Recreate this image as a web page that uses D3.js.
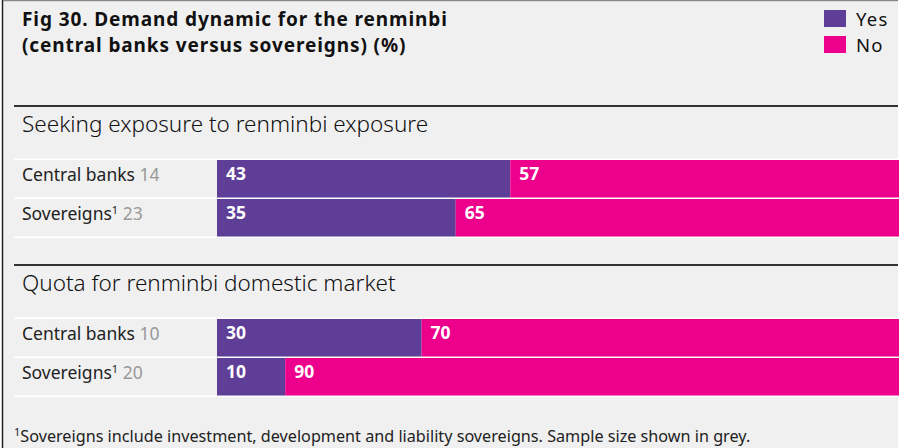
<!DOCTYPE html>
<html>
<head>
<meta charset="utf-8">
<script src="https://cdn.jsdelivr.net/npm/d3@7"></script>
<style>
  html, body { margin: 0; padding: 0; background: #ffffff; }
  svg { display: block; }
  text { font-family: "Noto Sans", "Open Sans", sans-serif; }
</style>
</head>
<body>
<svg id="chart" width="906" height="448"></svg>
<script>
// Survey answers, % of respondents
const sections = ["Seeking exposure to renminbi exposure", "Quota for renminbi domestic market"];
const groups = ["Central banks", "Sovereigns"];
const sampleSizes = [[14, 23], [10, 20]];
const yesValues = [[43, 35], [30, 10]];
const noValues = [[57, 65], [70, 90]];
const seriesNames = ["Yes", "No"];
const seriesColors = ["#5f3e98", "#ec008c"];

const svg = d3.select("#chart");
const W = 906, H = 448;

// Panel background and frame
svg.append("rect").attr("x", 3).attr("y", 0).attr("width", 895).attr("height", H).attr("fill", "#f0f0f0");
svg.append("line").attr("x1", 2.5).attr("x2", 2.5).attr("y1", 0).attr("y2", H).attr("stroke", "#222").attr("stroke-width", 1.5);
svg.append("line").attr("x1", 3).attr("x2", 898).attr("y1", 0.5).attr("y2", 0.5).attr("stroke", "#888").attr("stroke-width", 1.5);

// Title (two lines)
const titleLines = ["Fig 30. Demand dynamic for the renminbi", "(central banks versus sovereigns) (%)"];
svg.append("g").selectAll("text").data(titleLines).join("text")
  .attr("x", 22).attr("y", (d, i) => 26 + i * 26)
  .attr("font-size", 19).attr("font-weight", 700).attr("letter-spacing", 0.9).attr("fill", "#111")
  .text(d => d);

// Legend
const color = d3.scaleOrdinal().domain(seriesNames).range(seriesColors);
const legend = svg.append("g").selectAll("g").data(seriesNames).join("g")
  .attr("transform", (d, i) => `translate(824, ${10 + i * 26})`);
legend.append("rect").attr("width", 22).attr("height", 17).attr("fill", d => color(d));
legend.append("text").attr("x", 32).attr("y", 15.5).attr("font-size", 18.5)
  .attr("letter-spacing", 1.2).attr("fill", "#111").text(d => d);

// Shared horizontal scale for stacked bars
const x = d3.scaleLinear().domain([0, 100]).range([217, 899]);
const rowH = 39, gap = 1.5;
const sectionTop = [106, 265];     // separator line positions
const bandTop = [158.5, 317.5];    // first white divider per section

sections.forEach((name, s) => {
  const g = svg.append("g");
  g.append("line").attr("x1", 14).attr("x2", 898).attr("y1", sectionTop[s]).attr("y2", sectionTop[s])
    .attr("stroke", "#333").attr("stroke-width", 2);
  g.append("text").attr("x", 22).attr("y", sectionTop[s] + 26).attr("font-size", 22.5)
    .attr("font-weight", 300).attr("fill", "#111").text(name);

  const rows = groups.map((grp, i) => ({ group: grp, n: sampleSizes[s][i], Yes: yesValues[s][i], No: noValues[s][i] }));
  const y = d3.scaleBand().domain(groups).range([bandTop[s], bandTop[s] + rowH * groups.length]).paddingInner(0);

  // white dividers
  g.selectAll("rect.div").data(d3.range(groups.length + 1)).join("rect")
    .attr("x", 14).attr("width", 884).attr("y", i => bandTop[s] + i * rowH).attr("height", gap).attr("fill", "#ffffff");

  // row labels
  const lab = g.selectAll("text.lab").data(rows).join("text")
    .attr("x", 22).attr("y", d => y(d.group) + gap + 21).attr("font-size", 17.5).attr("fill", "#222");
  lab.append("tspan").text(d => d.group);
  lab.filter(d => d.group === "Sovereigns").append("tspan").attr("font-size", 11).attr("dy", -6).text("1");
  lab.append("tspan").attr("fill", "#999")
    .attr("dy", d => d.group === "Sovereigns" ? 6 : 0)
    .text(d => " " + d.n);

  const stacked = d3.stack().keys(seriesNames)(rows);
  const layers = g.selectAll("g.layer").data(stacked).join("g").attr("fill", d => color(d.key));
  layers.selectAll("rect").data(d => d).join("rect")
    .attr("x", d => x(d[0])).attr("width", d => x(d[1]) - x(d[0]))
    .attr("y", d => y(d.data.group) + gap).attr("height", rowH - gap);
  layers.selectAll("text").data(d => d.map(v => ({ v, key: d.key }))).join("text")
    .attr("x", d => x(d.v[0]) + 9).attr("y", d => y(d.v.data.group) + gap + 20)
    .attr("font-size", 17.5).attr("font-weight", 700).attr("fill", "#ffffff")
    .text(d => d.v.data[d.key]);
});

// Footnote
const foot = svg.append("text").attr("x", 14).attr("y", 442).attr("font-size", 16.2).attr("fill", "#222");
foot.append("tspan").attr("font-size", 11).attr("dy", -6).text("1");
foot.append("tspan").attr("dy", 6).text("Sovereigns include investment, development and liability sovereigns. Sample size shown in grey.");
</script>
</body>
</html>
